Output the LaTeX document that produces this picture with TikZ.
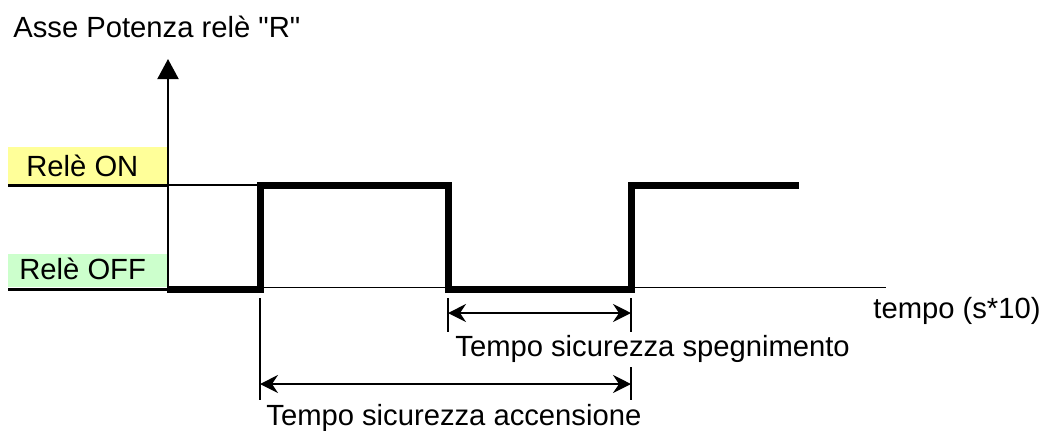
\documentclass[tikz,border=0pt]{standalone}
\usepackage{fontspec}
\setmainfont{Liberation Sans}[Ligatures=TeXOff]
\usetikzlibrary{arrows.meta}
\definecolor{onyellow}{HTML}{FFFF99}
\definecolor{offgreen}{HTML}{CCFFCC}

\begin{document}
\begin{tikzpicture}[x=0.5pt, y=-0.5pt,
  lbl/.style={anchor=base west, inner sep=0pt, font=\fontsize{14.6}{17}\selectfont},
  sig/.style={line width=3.5pt, line join=miter, line cap=rect},
  axis/.style={line width=1pt, -{Triangle[length=10pt, width=10.5pt]}},
  lvl/.style={line width=1.5pt},
  base/.style={line width=0.65pt},
  tick/.style={line width=1.1pt},
  dim/.style={line width=0.75pt, {Stealth[length=9pt, width=9pt, inset=3pt]}-{Stealth[length=9pt, width=9pt, inset=3pt]}}
]
  \useasboundingbox (0,0) rectangle (1042,430);
  % level labels
  \fill[onyellow] (8,147) rectangle (168,184);
  \fill[offgreen] (8,254) rectangle (168,287);
  \node[lbl] (on)  at (26,176) {Relè ON};
  \node[lbl] (off) at (19,279) {Relè OFF};
  \draw[lvl] (8,185) -- (168,185);
  \draw[lvl] (8,289) -- (168,289);
  % axes
  \coordinate (o)  at (168,289);
  \coordinate (yt) at (168,59);
  \coordinate (xe) at (886,287.5);
  \draw[axis] (o) -- (yt);
  \draw[base] (168,287.5) -- (xe);
  \draw[base] (168,185) -- (260,185);
  \node[lbl] (ylab) at (13,37)  {Asse Potenza relè "R"};
  \node[lbl] (xlab) at (873,318) {tempo (s*10)};
  % relay signal
  \draw[sig] (170,289) -- (260,289) -- (260,185) -- (448,185)
             -- (448,289) -- (631,289) -- (631,185) -- (795,185);
  % safety times
  \draw[tick] (260,298) -- (260,400);
  \draw[tick] (448,298) -- (448,332);
  \draw[tick] (631,298) -- (631,332);
  \draw[tick] (631,367) -- (631,400);
  \coordinate (sp1) at (448,313);
  \coordinate (sp2) at (631,313);
  \coordinate (ac1) at (260,384);
  \coordinate (ac2) at (631,384);
  \draw[dim] (sp1) -- (sp2);
  \draw[dim] (ac1) -- (ac2);
  \node[lbl] (tsp) at (455,356) {Tempo sicurezza spegnimento};
  \node[lbl] (tac) at (266,425) {Tempo sicurezza accensione};
\end{tikzpicture}
\end{document}
